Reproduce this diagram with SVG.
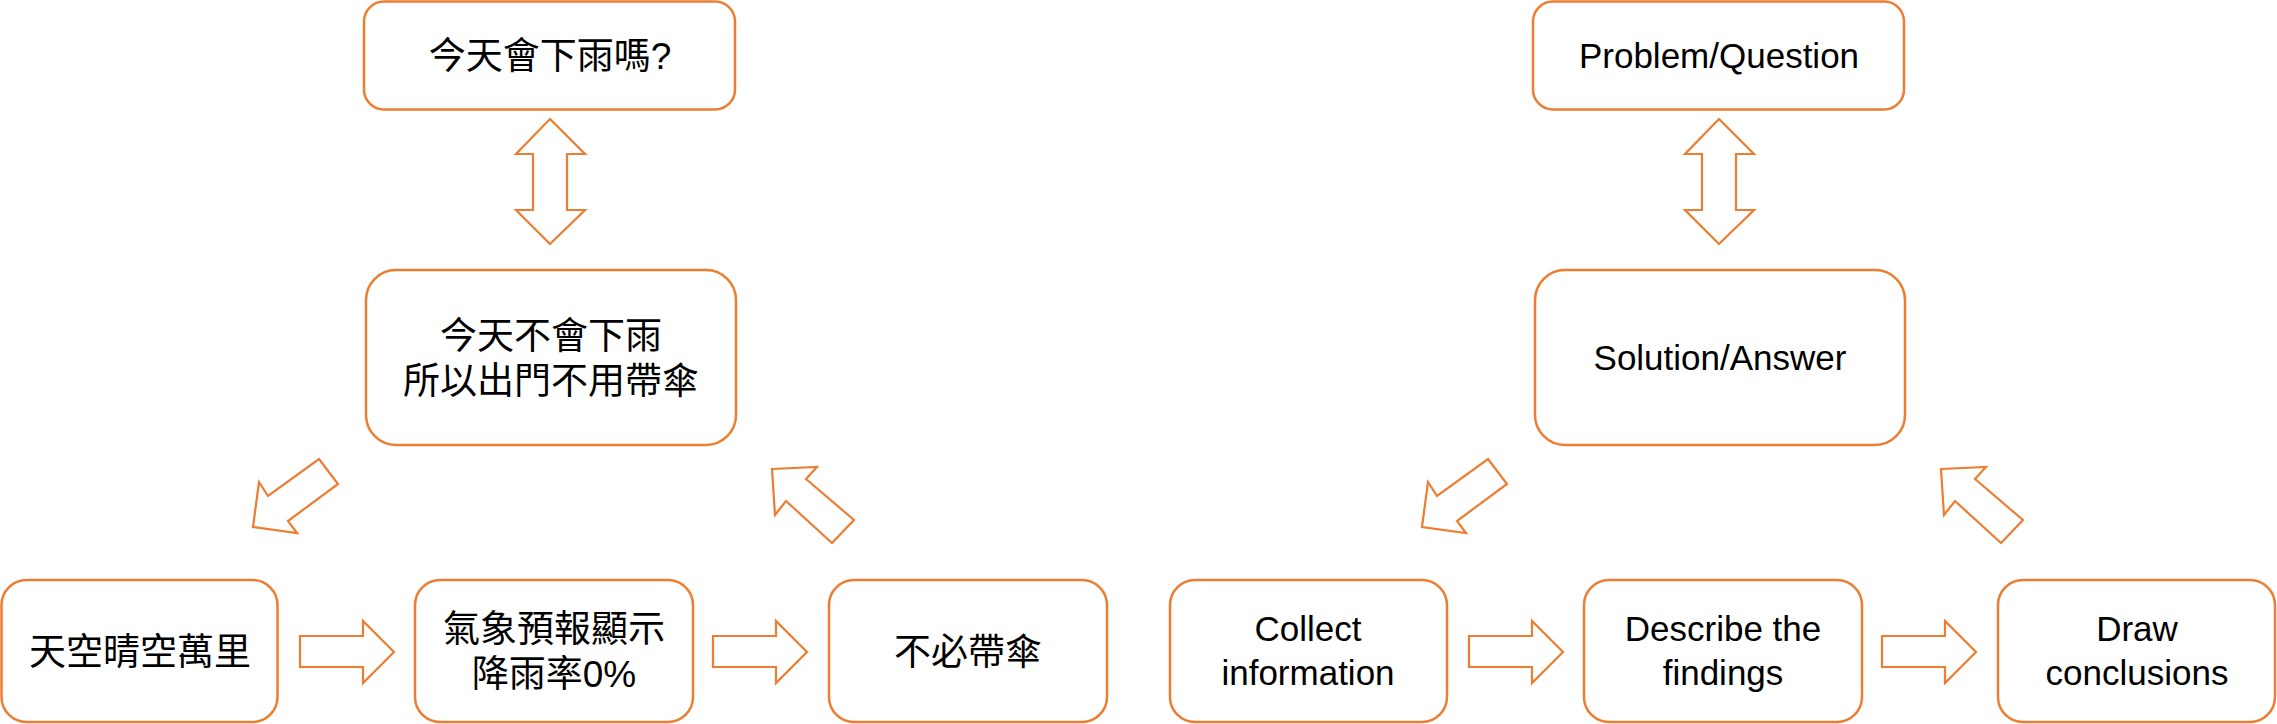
<svg xmlns="http://www.w3.org/2000/svg" width="2277" height="724" viewBox="0 0 2277 724">
<style>
.box{fill:#fff;stroke:#ED7D31;stroke-width:2.5}
.arr{fill:#fff;stroke:#ED7D31;stroke-width:2.2;stroke-linejoin:miter}
.cjk{font-family:"Liberation Sans","Noto Sans CJK TC",sans-serif;font-size:37px;fill:#000;text-anchor:middle;dominant-baseline:central}
.lat{font-family:"Liberation Sans",sans-serif;font-size:35px;fill:#000;text-anchor:middle}
</style>
<defs>
<polygon id="dbl" points="0,0 35,35 17,35 17,91 35,91 0,125 -34,91 -17,91 -17,35 -34,35"/>
<polygon id="right" points="0,0 63,0 63,-15 94,16 63,47 63,31 0,31"/>
<polygon id="downleft" points="319,459 338,484 288,521 297,533 253,527 259,482 268,496"/>
<polygon id="upleft" points="772,469 817,467 806,479 854,520 832,543 786,501 775,515"/>
</defs>
<rect width="2277" height="724" fill="#fff"/>
<g id="connectors">
<use href="#dbl" class="arr" x="550" y="119"/>
<use href="#downleft" class="arr"/>
<use href="#upleft" class="arr"/>
<use href="#right" class="arr" x="300" y="636"/>
<use href="#right" class="arr" x="713" y="636"/>
<use href="#dbl" class="arr" x="1719" y="119"/>
<use href="#downleft" class="arr" x="1169"/>
<use href="#upleft" class="arr" x="1169"/>
<use href="#right" class="arr" x="1469" y="636"/>
<use href="#right" class="arr" x="1882" y="636"/>
</g>
<g id="n-rain-q">
<rect class="box" x="364" y="1.5" width="371" height="108" rx="20"/>
<text class="cjk" x="550" y="56">今天會下雨嗎?</text>
</g>
<g id="n-rain-a">
<rect class="box" x="366" y="270" width="370" height="175" rx="30"/>
<text class="cjk" x="551" y="336">今天不會下雨</text>
<text class="cjk" x="551" y="381">所以出門不用帶傘</text>
</g>
<g id="n-sky">
<rect class="box" x="1.5" y="580" width="276" height="142" rx="25"/>
<text class="cjk" x="140" y="652">天空晴空萬里</text>
</g>
<g id="n-forecast">
<rect class="box" x="415" y="580" width="278" height="142" rx="25"/>
<text class="cjk" x="554" y="629">氣象預報顯示</text>
<text class="cjk" x="554" y="674">降雨率0%</text>
</g>
<g id="n-noumbrella">
<rect class="box" x="829" y="580" width="278" height="142" rx="25"/>
<text class="cjk" x="968" y="652">不必帶傘</text>
</g>
<g id="n-problem">
<rect class="box" x="1533" y="1.5" width="371" height="108" rx="20"/>
<text class="lat" x="1719" y="68">Problem/Question</text>
</g>
<g id="n-solution">
<rect class="box" x="1535" y="270" width="370" height="175" rx="30"/>
<text class="lat" x="1720" y="370">Solution/Answer</text>
</g>
<g id="n-collect">
<rect class="box" x="1170" y="580" width="277" height="142" rx="25"/>
<text class="lat" x="1308" y="641">Collect</text>
<text class="lat" x="1308" y="685">information</text>
</g>
<g id="n-describe">
<rect class="box" x="1584" y="580" width="278" height="142" rx="25"/>
<text class="lat" x="1723" y="641">Describe the</text>
<text class="lat" x="1723" y="685">findings</text>
</g>
<g id="n-draw">
<rect class="box" x="1998" y="580" width="277" height="142" rx="25"/>
<text class="lat" x="2137" y="641">Draw</text>
<text class="lat" x="2137" y="685">conclusions</text>
</g>
</svg>
